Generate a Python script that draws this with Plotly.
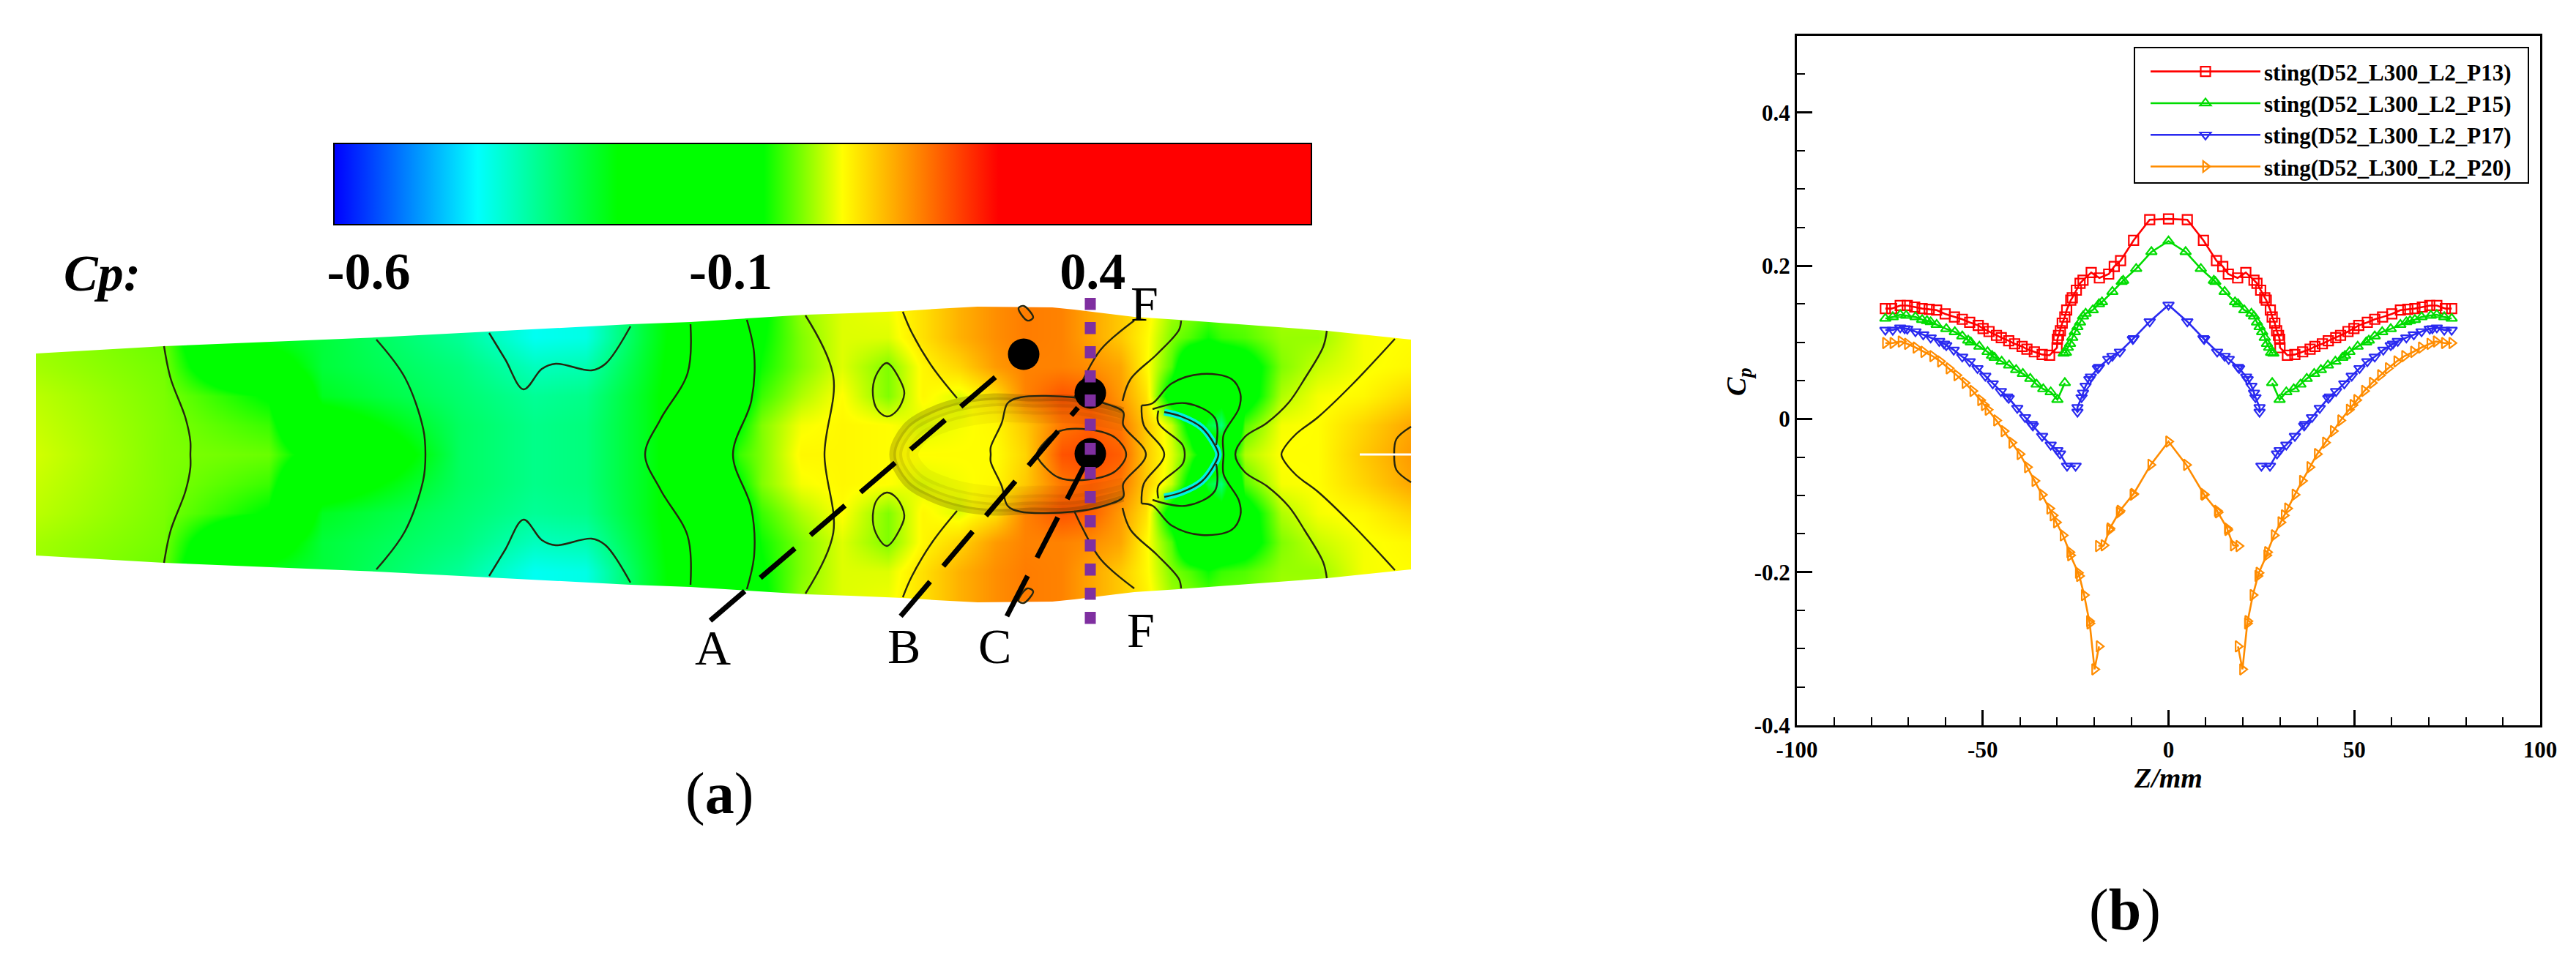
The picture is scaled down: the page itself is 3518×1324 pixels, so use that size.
import plotly.graph_objects as go

# ---------- panel (b): Cp along Z, left half, geometry is symmetric ----------
SERIES = ["sting(D52_L300_L2_P13)", "sting(D52_L300_L2_P15)", "sting(D52_L300_L2_P17)", "sting(D52_L300_L2_P20)"]
COLORS = ["#ff0000", "#00dc00", "#2a2af0", "#ff8c00"]
SYMBOLS = ["square-open", "triangle-up-open", "triangle-down-open", "triangle-right-open"]

P13_z = [-76.2,-74.5,-72.2,-70.3,-68.3,-66.3,-64.4,-62.4,-60.1,-57.6,-55.5,-53.5,-51.2,-49.9,-48.3,-46.3,-45,-43,-41.4,-39.4,-38.1,-36.1,-34,-32,
         -30,-29.9,-29.6,-29.1,-28.6,-27.9,-27.4,-26.3,-25.9,-24.8,-23.8,-23,-20.8,-18.6,-16.1,-14.6,-12.9,-9.4,-5.06,0]
P13_cp = [.144,.144,.148,.148,.146,.144,.143,.142,.137,.133,.130,.126,.122,.118,.114,.109,.106,.102,.098,.0945,.091,.0875,.084,.083,
          .093,.104,.109,.115,.125,.133,.142,.155,.158,.168,.177,.181,.191,.184,.189,.199,.2066,.233,.260,.261]

P15_out_z = [-76.2,-74.2,-72.2,-70.6,-68.1,-66.3,-65,-64,-62.4,-59.8,-57.5,-55.5,-53.9,-53.2,-50.9,-48.7,-47.5,-46.8,-44.9,-42.9,-41,-39.2,-37.2,-35.5,-33.7,-31.7,-29.9,-27.9]
P15_out_cp = [.131,.133,.136,.135,.133,.1295,.128,.1265,.123,.1175,.1135,.108,.1025,.100,.0945,.0875,.0825,.080,.075,.070,.064,.059,.0525,.045,.039,.035,.025,.047]
P15_in_z = [-28.2,-27.6,-27.1,-26.5,-25.9,-25.2,-24.5,-23.8,-23,-22.3,-20.4,-18.7,-17.9,-15.1,-12.6,-12.2,-8.7,-4.6,0]
P15_in_cp = [.0855,.0865,.093,.098,.106,.1135,.120,.126,.134,.1375,.142,.150,.1525,.166,.179,.1805,.196,.218,.232]

P17_out_z = [-76.2,-74.2,-72.2,-71,-70.3,-68.1,-66,-64,-61.7,-60.4,-59.8,-57.8,-55.5,-53.5,-51.4,-49.3,-47.3,-45.1,-43.4,-43,-40.7,-38.6,-36.8,-36.5,-34,-31.7,-29.9,-29.2,-27.3,-25]
P17_out_cp = [.116,.116,.119,.118,.1175,.114,.110,.106,.1015,.098,.096,.090,.081,.075,.066,.056,.046,.036,.029,.027,.014,.002,-.007,-.009,-.0225,-.034,-.041,-.0455,-.0615,-.0615]
P17_in_z = [-24.5,-24.5,-23.4,-23,-22.3,-21.3,-20.9,-19,-18.7,-16.2,-15.1,-13.1,-9.6,-9.4,-5.06,0]
P17_in_cp = [.009,.015,.028,.034,.043,.0515,.055,.066,.0675,.078,.082,.0875,.104,.105,.127,.1487]

P20_out_z = [-76.2,-74.2,-72,-70.3,-68,-65.9,-63.5,-61.4,-59.1,-57,-54.8,-52.7,-50.6,-49.6,-48.6,-46.3,-44.3,-42.2,-40,-38,-36,-34,-32,-31.1,-30.2,-28.4,-26.6,-26.4,-24.3,-24,-22.7,-21.3,-21.2,-19.9,-18.7]
P20_out_cp = [.099,.099,.101,.098,.093,.0875,.082,.075,.066,.057,.047,.0365,.0245,.018,.012,-.002,-.016,-.031,-.046,-.063,-.081,-.099,-.117,-.126,-.135,-.152,-.174,-.178,-.201,-.205,-.230,-.264,-.267,-.327,-.297]
P20_in_z = [-18.9,-17.4,-15.9,-15.8,-13.3,-13.1,-9.6,-9.4,-4.8,0]
P20_in_cp = [-.166,-.165,-.145,-.143,-.122,-.120,-.099,-.098,-.060,-.0296]

X_TICKS = [-100, -50, 0, 50, 100]
X_LABELS = ["-100", "-50", "0", "50", "100"]
Y_TICKS = [-0.4, -0.2, 0, 0.2, 0.4]
Y_LABELS = ["-0.4", "-0.2", "0", "0.2", "0.4"]

# ---------- panel (a): Cp field on the sting, in picture coordinates, symmetric about CENTER ----------
W, H = 3518, 1324
CENTER = 621
FIELD_X = [49,224,367,440,629,730,800,880,950,1010,1040,1094,1150,1213,1260,1310,1360,1400,1450,1490,1530,1565,1600,1625,1650,1668,1700,1750,1800,1862,1927]
FIELD_OFF = [0,40,80,120,160,210]
FIELD_CP = [
 [.035,.03,.025,.015,.01,.01],
 [.0,.0,-.002,-.005,-.01,-.01],
 [-.01,-.03,-.06,-.2,-.28,-.28],
 [-.1,-.2,-.28,-.30,-.30,-.30],
 [-.33,-.33,-.34,-.35,-.37,-.37],
 [-.36,-.36,-.37,-.40,-.44,-.44],
 [-.35,-.35,-.36,-.39,-.43,-.43],
 [-.28,-.28,-.28,-.29,-.30,-.30],
 [-.2,-.2,-.2,-.2,-.2,-.2],
 [-.03,-.06,-.1,-.12,-.14,-.14],
 [.0,.0,-.03,-.05,-.06,-.07],
 [.06,.05,.02,.0,.0,.01],
 [.06,.06,.055,.04,.04,.04],
 [.055,.055,.0,.0,.04,.05],
 [.055,.04,.06,.06,.08,.08],
 [.055,.05,.04,.09,.12,.12],
 [.055,.06,.08,.14,.15,.15],
 [.09,.1,.16,.16,.165,.165],
 [.2,.17,.2,.16,.16,.16],
 [.21,.19,.19,.15,.13,.13],
 [.19,.17,.14,.13,.1,.1],
 [.1,.1,.08,.06,.06,.07],
 [.04,.03,-.1,-.02,.0,.02],
 [-.02,-.08,-.15,-.15,-.02,.01],
 [-.1,-.3,-.15,-.15,-.05,.0],
 [-.12,-.35,-.2,-.14,-.03,.0],
 [.02,-.02,-.1,-.1,-.02,.0],
 [.055,.05,.02,.0,.01,.02],
 [.055,.055,.05,.03,.01,.02],
 [.10,.09,.06,.05,.05,.05],
 [.14,.13,.09,.06,.055,.055],
]
BAND_X = [49,224,514,861,943,1020,1101,1161,1233,1278,1335,1437,1467,1549,1610,1812,1927]
BAND_HALF = [138,148,160,178,181,186,191,193,196,199,202,201,198,188,184,169,157]

CONTOURS = [
 ([224,233,253,260,260],[148,104,51,18,0]),
 ([514,553,578,581],[157,105,35,0]),
 ([668,690,715,740,759,808,827,861],[166,130,89,117,124,115,124,175]),
 ([943,939,902,881],[178,111,48,0]),
 ([1020,1030,1026,1001],[184,137,73,0]),
 ([1100,1138,1126],[190,107,0]),
 ([1211,1230,1235,1225,1211,1197,1192,1199,1211],[125,100,83,60,52,63,90,113,125]),
 ([1233,1245,1273,1307],[195,167,120,77]),
 ([1353,1353,1368,1376,1393,1467,1508,1534,1534,1565],[0,10,43,70,78,78,70,58,40,0]),
 ([1416,1427,1447,1488,1523,1538],[0,17,32,34,23,0]),
 ([1549,1503,1478,1467],[183,143,100,77]),
 ([1613,1610,1580,1544,1533],[183,170,137,103,73]),
 ([1559,1562,1590],[67,40,0]),
 ([1559,1574,1600,1641,1682,1694,1692,1671,1671],[67,70,97,110,103,83,63,27,0]),
 ([1574,1620,1659,1661],[62,70,50,13]),
 ([1582,1582,1615,1618],[60,43,13,0]),
 ([1590,1613,1641,1659,1664],[58,52,37,13,0]),
 ([1812,1807,1782,1760,1730,1700,1687],[169,147,104,71,43,24,0]),
 ([1905,1847,1800,1770,1752,1750],[158,96,51,28,6,0]),
 ([1927,1907,1904],[38,21,0]),
 ([1391,1398,1411,1403,1391],[200,203,187,183,200]),
]
CRESCENT_X = [1590,1613,1641,1659,1664]
CRESCENT_OFF = [58,52,37,13,0]
BODY_EDGE_X = [1534,1467,1406,1355,1309,1268,1233,1215]
BODY_EDGE_OFF = [63,80,81,83,77,63,40,0]
BODY_SHADE = [(4,9,0.22),(11,12,0.13),(20,14,0.08),(31,16,0.05)]  # inset, stroke width, opacity

LEADER_A = ([970,1362],[848,513])
LEADER_B = ([1230,1472],[842,557])
LEADER_C = ([1375,1480],[842,638])
DOTS_X = [1398,1489,1489]
DOTS_Y = [484,537,620]
SECTION_X = [1489,1489]
SECTION_Y = [407,853]
WAKE_X = [1857,1927]
WAKE_Y = [621,621]

CB_TICKS = [-0.6,-0.1,0.4]
CB_LABELS = ["-0.6","-0.1","0.4"]
CB_STOPS = [[0,"rgb(0,0,255)"],[.147,"rgb(0,255,255)"],[.29,"rgb(0,255,0)"],[.44,"rgb(0,255,0)"],
            [.52,"rgb(255,255,0)"],[.60,"rgb(255,128,0)"],[.68,"rgb(255,0,0)"],[1,"rgb(255,0,0)"]]

LETTERS = [("A",973,885),("B",1234,883),("C",1358,883),("F",1558,861),("F",1563,415)]

SERIF = "Liberation Serif"

def mirror_join(xs, offs):
    """full section path from a half path, about the sting axis"""
    if offs[-1] == 0:
        return xs + xs[-2::-1], [CENTER-o for o in offs] + [CENTER+o for o in offs[-2::-1]]
    return xs + [None] + xs, [CENTER-o for o in offs] + [None] + [CENTER+o for o in offs]

def neg(v):
    return [-a for a in v]

fig = go.Figure()

# field
rows = [CENTER - o for o in FIELD_OFF[::-1]] + [CENTER + o for o in FIELD_OFF[1:]]
z = []
for i in range(len(FIELD_OFF)-1, -1, -1):
    z.append([col[i] for col in FIELD_CP])
for i in range(1, len(FIELD_OFF)):
    z.append([col[i] for col in FIELD_CP])
fig.add_trace(go.Heatmap(x=FIELD_X, y=rows, z=z, xaxis="x2", yaxis="y2", zsmooth="best",
    colorscale=CB_STOPS, zmin=-0.648, zmax=0.702, hoverinfo="skip",
    colorbar=dict(orientation="h", x=456/W, xanchor="left", xref="paper", y=1-196/H, yanchor="top", yref="paper",
                  len=1335/W, lenmode="fraction", thickness=111, thicknessmode="pixels",
                  outlinecolor="black", outlinewidth=2, tickmode="array", tickvals=CB_TICKS, ticktext=CB_LABELS,
                  ticks="", ticklen=0, tickfont=dict(family=SERIF, size=72, color="black", weight="bold"),
                  xpad=0, ypad=0)))

# white masks trim the field to the sting outline
top = [CENTER-h for h in BAND_HALF]
bot = [CENTER+h for h in BAND_HALF]
fig.add_trace(go.Scatter(x=[0,2000,2000]+BAND_X[::-1]+[0], y=[320,320,CENTER]+top[::-1]+[320],
    xaxis="x2", yaxis="y2", mode="none", fill="toself", fillcolor="white", showlegend=False, hoverinfo="skip"))
fig.add_trace(go.Scatter(x=[0,2000,2000]+BAND_X[::-1]+[0], y=[930,930,CENTER]+bot[::-1]+[930],
    xaxis="x2", yaxis="y2", mode="none", fill="toself", fillcolor="white", showlegend=False, hoverinfo="skip"))
for xs_, ys_ in (([0,49,49,0],[320,320,930,930]), ([1927,2000,2000,1927],[320,320,930,930])):
    fig.add_trace(go.Scatter(x=xs_, y=ys_, xaxis="x2", yaxis="y2", mode="none", fill="toself", fillcolor="white",
                             showlegend=False, hoverinfo="skip"))

# body shading: nested strokes fading inwards from the body edge
for inset, wid, op in BODY_SHADE:
    sx = [1534 - (1534-x)*(1-inset/319) for x in BODY_EDGE_X]
    so = [o*(1-inset/83) for o in BODY_EDGE_OFF]
    bx, by = mirror_join(sx, so)
    fig.add_trace(go.Scatter(x=bx, y=by, xaxis="x2", yaxis="y2", mode="lines",
                             line=dict(color=f"rgba(60,40,0,{op})", width=wid, shape="spline"), showlegend=False, hoverinfo="skip"))
# crescent
cx, cy = mirror_join(CRESCENT_X, CRESCENT_OFF)
fig.add_trace(go.Scatter(x=cx, y=cy, xaxis="x2", yaxis="y2", mode="lines",
                         line=dict(color="rgb(0,240,230)", width=9, shape="spline"), showlegend=False, hoverinfo="skip"))
# contour lines
px_, py_ = [], []
for xs_, os_ in CONTOURS:
    a, b = mirror_join(xs_, os_)
    px_ += a + [None]
    py_ += b + [None]
fig.add_trace(go.Scatter(x=px_, y=py_, xaxis="x2", yaxis="y2", mode="lines",
                         line=dict(color="#26260f", width=2.4, shape="spline", smoothing=1), showlegend=False, hoverinfo="skip"))
fig.add_trace(go.Scatter(x=WAKE_X, y=WAKE_Y, xaxis="x2", yaxis="y2", mode="lines", line=dict(color="white", width=3),
                         showlegend=False, hoverinfo="skip"))
# probes, leaders, section line
fig.add_trace(go.Scatter(x=DOTS_X, y=DOTS_Y, xaxis="x2", yaxis="y2", mode="markers",
                         marker=dict(color="black", size=43), showlegend=False, hoverinfo="skip"))
for lx, ly in (LEADER_A, LEADER_B, LEADER_C):
    fig.add_trace(go.Scatter(x=lx, y=ly, xaxis="x2", yaxis="y2", mode="lines",
                             line=dict(color="black", width=7, dash="62px,28px"), showlegend=False, hoverinfo="skip"))
fig.add_trace(go.Scatter(x=SECTION_X, y=SECTION_Y, xaxis="x2", yaxis="y2", mode="lines",
                         line=dict(color="#7f2fa0", width=15, dash="16.5px,16.5px"), showlegend=False, hoverinfo="skip"))

# Cp curves
curves = [
    (P13_z + neg(P13_z[-2::-1]), P13_cp + P13_cp[-2::-1]),
    (P15_out_z + [None] + P15_in_z + neg(P15_in_z[-2::-1]) + [None] + neg(P15_out_z[::-1]),
     P15_out_cp + [None] + P15_in_cp + P15_in_cp[-2::-1] + [None] + P15_out_cp[::-1]),
    (P17_out_z + [None] + P17_in_z + neg(P17_in_z[-2::-1]) + [None] + neg(P17_out_z[::-1]),
     P17_out_cp + [None] + P17_in_cp + P17_in_cp[-2::-1] + [None] + P17_out_cp[::-1]),
    (P20_out_z + [None] + P20_in_z + neg(P20_in_z[-2::-1]) + [None] + neg(P20_out_z[::-1]),
     P20_out_cp + [None] + P20_in_cp + P20_in_cp[-2::-1] + [None] + P20_out_cp[::-1]),
]
for name, col, sym, (zz, cc) in zip(SERIES, COLORS, SYMBOLS, curves):
    fig.add_trace(go.Scatter(x=zz, y=cc, name=name, mode="lines+markers",
        line=dict(color=col, width=2.6),
        marker=dict(symbol=sym, size=13, color=col, line=dict(color=col, width=2.2))))

ann = [dict(x=x, y=y, text=t, font=dict(family=SERIF, size=68, color="black")) for t, x, y in LETTERS]
ann += [dict(x=139, y=373, text="<b><i>Cp:</i></b>", font=dict(family=SERIF, size=70, color="black")),
        dict(x=982, y=1084, text="(<b>a</b>)", font=dict(family=SERIF, size=80, color="black")),
        dict(x=2902, y=1243, text="(<b>b</b>)", font=dict(family=SERIF, size=80, color="black")),
        dict(x=2374, y=522, text="<b><i>C<sub>p</sub></i></b>", textangle=-90, font=dict(family=SERIF, size=38, color="black"))]
for a in ann:
    a.update(xref="x2", yref="y2", showarrow=False, xanchor="center", yanchor="middle")

fig.update_layout(
    width=W, height=H, margin=dict(l=0, r=0, t=0, b=0, autoexpand=False), paper_bgcolor="white", plot_bgcolor="rgba(0,0,0,0)",
    showlegend=True,
    legend=dict(x=2932/W, xanchor="left", y=1-71/H, yanchor="top", bgcolor="rgba(0,0,0,0)", borderwidth=0,
                font=dict(family=SERIF, size=31, color="black", weight="bold"), itemwidth=150, itemclick=False),
    shapes=[dict(type="rect", xref="paper", yref="paper", x0=2915/W, x1=3453/W, y0=1-250/H, y1=1-65/H,
                 line=dict(color="black", width=2), fillcolor="rgba(0,0,0,0)", layer="above")],
    annotations=ann,
    xaxis=dict(domain=[2454/W, 3469/W], range=[-100, 100], tickmode="array", tickvals=X_TICKS, ticktext=X_LABELS,
               ticks="inside", ticklen=21, tickwidth=3, tickcolor="black", showline=True, linecolor="black", linewidth=3, mirror=True,
               showgrid=False, zeroline=False, tickfont=dict(family=SERIF, size=31, color="black", weight="bold"),
               ticklabelstandoff=4,
               minor=dict(tickmode="linear", tick0=-100, dtick=10, ticks="inside", ticklen=11, tickwidth=1.5, tickcolor="black", showgrid=False),
               title=dict(text="<b><i>Z/mm</i></b>", font=dict(family=SERIF, size=38, color="black"), standoff=4), anchor="y"),
    yaxis=dict(domain=[1-991/H, 1-49/H], range=[-0.4, 0.5], tickmode="array", tickvals=Y_TICKS, ticktext=Y_LABELS,
               ticks="inside", ticklen=21, tickwidth=3, tickcolor="black", showline=True, linecolor="black", linewidth=3, mirror=True,
               showgrid=False, zeroline=False, tickfont=dict(family=SERIF, size=31, color="black", weight="bold"),
               minor=dict(tickmode="linear", tick0=-0.4, dtick=0.05, ticks="inside", ticklen=11, tickwidth=1.5, tickcolor="black", showgrid=False),
               anchor="x"),
    xaxis2=dict(domain=[0, 1], range=[0, W], visible=False, anchor="y2"),
    yaxis2=dict(domain=[0, 1], range=[H, 0], visible=False, anchor="x2"),
)

fig.write_html("out.html", config={"displayModeBar": False},
               post_script="var s=document.createElement('style');s.textContent='html,body{margin:0;padding:0;height:1324px;width:3518px;overflow:hidden}';document.head.appendChild(s);")
